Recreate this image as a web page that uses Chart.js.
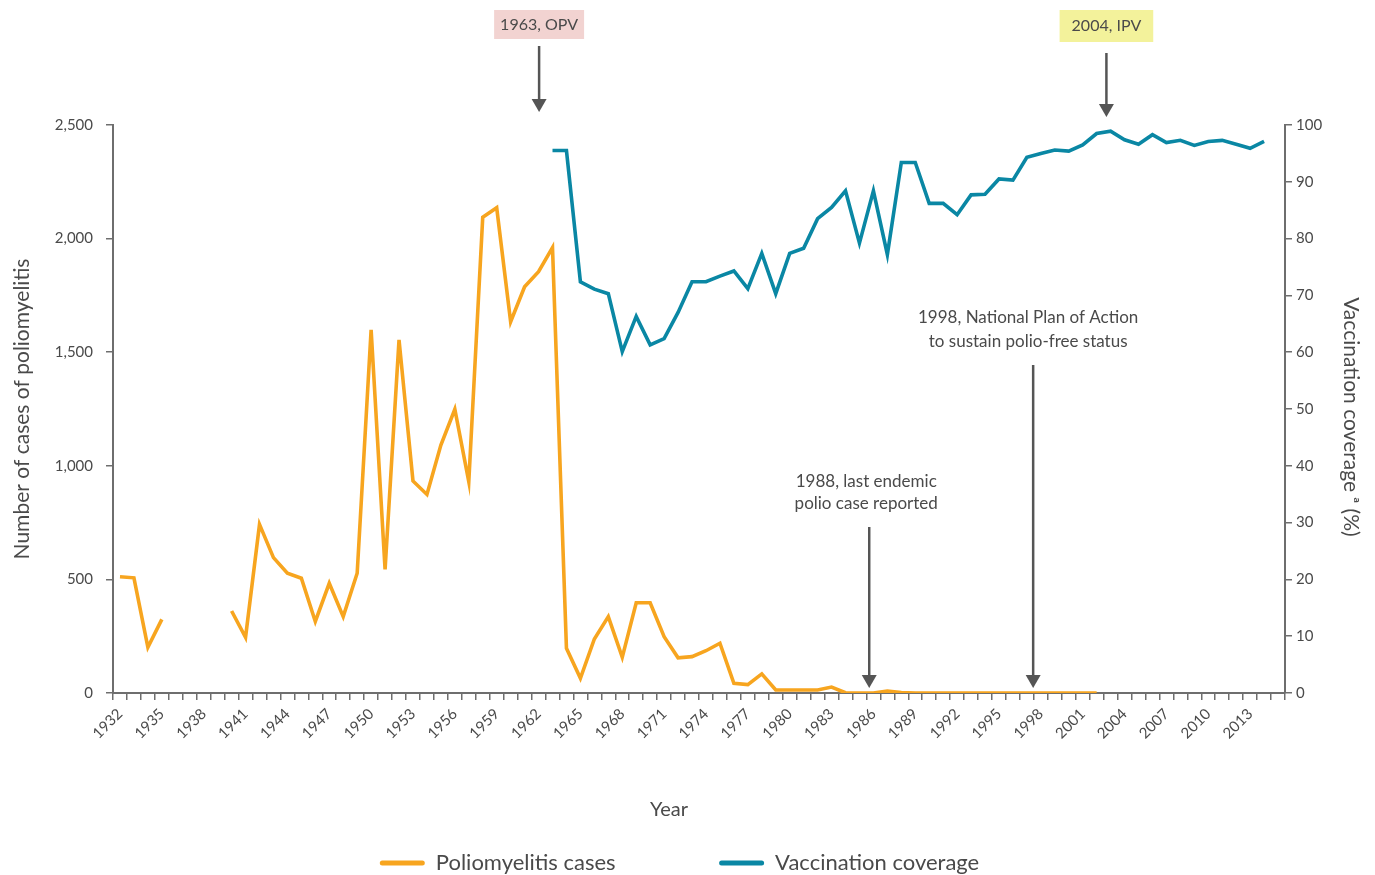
<!DOCTYPE html>
<html>
<head>
<meta charset="utf-8">
<script src="https://cdn.jsdelivr.net/npm/chart.js@4.4.1/dist/chart.umd.min.js"></script>
<style>
  html, body { margin: 0; padding: 0; background: #ffffff; }
  #wrap { width: 1375px; height: 875px; }
</style>
</head>
<body>
<div id="wrap"><canvas id="c" width="1375" height="875"></canvas></div>
<script>
// ---------------- DATA ----------------
const years = ['1932','1933','1934','1935','1936','1937','1938','1939','1940','1941',
  '1942','1943','1944','1945','1946','1947','1948','1949','1950','1951',
  '1952','1953','1954','1955','1956','1957','1958','1959','1960','1961',
  '1962','1963','1964','1965','1966','1967','1968','1969','1970','1971',
  '1972','1973','1974','1975','1976','1977','1978','1979','1980','1981',
  '1982','1983','1984','1985','1986','1987','1988','1989','1990','1991',
  '1992','1993','1994','1995','1996','1997','1998','1999','2000','2001',
  '2002','2003','2004','2005','2006','2007','2008','2009','2010','2011',
  '2012','2013','2014','2015'];

const yearTickLabels = ['1932','1935','1938','1941','1944','1947','1950','1953','1956','1959',
  '1962','1965','1968','1971','1974','1977','1980','1983','1986','1989','1992','1995','1998',
  '2001','2004','2007','2010','2013'];

// Poliomyelitis cases (left axis)
const poliomyelitisCases = [
  512, 507, 201, 324, null, null, null, null, 361, 245,   // 1932-1941
  742, 596, 527, 505, 315, 483, 336, 527, 1598, 544,       // 1942-1951
  1554, 933, 874, 1091, 1249, 930, 2094, 2136, 1634, 1788, // 1952-1961
  1854, 1960, 197, 65, 238, 336, 157, 397, 397, 248,       // 1962-1971
  155, 160, 186, 219, 43, 37, 84, 13, 13, 13,              // 1972-1981
  13, 26, 1, 0, 0, 9, 2, 0, 0, 0,                          // 1982-1991
  0, 0, 0, 0, 0, 0, 0, 0, 0, 0,                            // 1992-2001
  0, null, null, null, null, null, null, null, null, null, // 2002-2011
  null, null, null, null                                   // 2012-2015
];

// Vaccination coverage, % (right axis)
const vaccinationCoverage = [
  null, null, null, null, null, null, null, null, null, null, // 1932-1941
  null, null, null, null, null, null, null, null, null, null, // 1942-1951
  null, null, null, null, null, null, null, null, null, null, // 1952-1961
  null, 95.5, 95.5, 72.4, 71.1, 70.3, 60.1, 66.3, 61.3, 62.4, // 1962-1971
  67.0, 72.4, 72.4, 73.4, 74.3, 71.2, 77.4, 70.3, 77.4, 78.3, // 1972-1981
  83.5, 85.5, 88.4, 79.2, 88.4, 77.2, 93.4, 93.4, 86.2, 86.2, // 1982-1991
  84.2, 87.7, 87.8, 90.5, 90.3, 94.3, 95.0, 95.6, 95.4, 96.5, // 1992-2001
  98.5, 98.9, 97.4, 96.6, 98.3, 96.9, 97.3, 96.4, 97.1, 97.3, // 2002-2011
  96.6, 95.9, 97.1, null                                      // 2012-2015
];

const seriesNames = ['Poliomyelitis cases', 'Vaccination coverage'];

// Event markers: position on the year axis and their texts
const eventYears = [1962.04, 2002.7, 1985.7, 1997.45];
const eventTexts = [
  ['1963, OPV'],
  ['2004, IPV'],
  ['1988, last endemic', 'polio case reported'],
  ['1998, National Plan of Action', 'to sustain polio-free status']
];

// ---------------- STYLE ----------------
const FONT = 'Lato, "Open Sans", sans-serif';
const TEXT = '#4a4a4a';
const AXIS = '#6e6e6e';
const ORANGE = '#f7a51f';
const BLUE = '#0a87a4';

Chart.defaults.font.family = FONT;
Chart.defaults.color = TEXT;

const eventMarkers = {
  id: 'eventMarkers',
  afterDraw(chart, args, opts) {
    const ctx = chart.ctx;
    const x = chart.scales.x;
    const base = Number(years[0]);
    ctx.save();
    opts.items.forEach((st, i) => {
      const px = x.getPixelForValue(eventYears[i] - base);
      const lines = eventTexts[i];
      ctx.font = st.fontSize + 'px ' + FONT;
      ctx.textAlign = 'center';
      ctx.textBaseline = 'middle';
      if (st.type === 'box') {
        const w = ctx.measureText(lines[0]).width + st.padX * 2;
        ctx.fillStyle = st.bg;
        ctx.fillRect(px - w / 2, st.boxTop, w, st.boxH);
        ctx.fillStyle = TEXT;
        ctx.fillText(lines[0], px, st.boxTop + st.boxH / 2);
      } else {
        ctx.fillStyle = TEXT;
        lines.forEach((t, k) => ctx.fillText(t, px + st.dx, st.textY[k]));
      }
      // arrow
      const tip = st.arrowTip === 'bottom' ? chart.chartArea.bottom - 5 : st.arrowTip;
      ctx.strokeStyle = opts.arrowColor;
      ctx.lineWidth = 2.5;
      ctx.beginPath();
      ctx.moveTo(px, st.arrowTop);
      ctx.lineTo(px, tip - 11);
      ctx.stroke();
      ctx.fillStyle = opts.arrowColor;
      ctx.beginPath();
      ctx.moveTo(px - 7.5, tip - 13);
      ctx.lineTo(px + 7.5, tip - 13);
      ctx.lineTo(px, tip);
      ctx.closePath();
      ctx.fill();
    });
    ctx.restore();
  }
};

new Chart(document.getElementById('c'), {
  type: 'line',
  data: {
    labels: years,
    datasets: [
      {
        label: seriesNames[0],
        data: poliomyelitisCases,
        yAxisID: 'y',
        borderColor: ORANGE,
        backgroundColor: ORANGE,
        borderWidth: 3.6,
        pointRadius: 0,
        tension: 0,
        spanGaps: false
      },
      {
        label: seriesNames[1],
        data: vaccinationCoverage,
        yAxisID: 'y1',
        borderColor: BLUE,
        backgroundColor: BLUE,
        borderWidth: 3.6,
        pointRadius: 0,
        tension: 0,
        spanGaps: false
      }
    ]
  },
  options: {
    responsive: false,
    devicePixelRatio: 1,
    animation: false,
    layout: { padding: { top: 125, left: 0, right: 16, bottom: -9 } },
    plugins: {
      tooltip: { enabled: false },
      legend: {
        position: 'bottom',
        labels: {
          font: { size: 22 },
          color: TEXT,
          boxWidth: 45,
          boxHeight: 5,
          padding: 10,
          generateLabels(chart) {
            const items = Chart.defaults.plugins.legend.labels.generateLabels(chart);
            items.forEach((it, i) => {
              it.lineWidth = 0;
              it.borderRadius = 2.5;
              if (i === 0) it.text = it.text + '\u2003\u2003\u2003\u2003\u2003\u2002';
            });
            return items;
          }
        }
      },
      eventMarkers: {
        arrowColor: '#555555',
        items: [
          { type: 'box', fontSize: 16, bg: '#f2d3d1', boxTop: 10, boxH: 29, padX: 6, arrowTop: 46, arrowTip: 112 },
          { type: 'box', fontSize: 16, bg: '#f3f29b', boxTop: 10, boxH: 32, padX: 12, arrowTop: 53, arrowTip: 117 },
          { type: 'text', fontSize: 17, textY: [482, 504], dx: -3, arrowTop: 527, arrowTip: 'bottom' },
          { type: 'text', fontSize: 17, textY: [318, 342], dx: -5, arrowTop: 365, arrowTip: 'bottom' }
        ]
      }
    },
    scales: {
      x: {
        type: 'category',
        offset: true,
        afterFit(s) { s.height = 149; },
        grid: { offset: true, drawOnChartArea: false, drawTicks: true, tickLength: 7, color: AXIS, lineWidth: 1.5 },
        border: { display: true, color: AXIS, width: 2 },
        ticks: {
          autoSkip: false,
          maxRotation: 45,
          minRotation: 45,
          padding: 5,
          font: { size: 15 },
          color: TEXT,
          callback(value, index) {
            const lab = this.getLabelForValue(value);
            return yearTickLabels.includes(lab) ? lab : '';
          }
        },
        title: { display: true, text: 'Year\u2003\u2003\u2003\u2003', font: { size: 20 }, color: TEXT, padding: { top: 0, bottom: 20 } }
      },
      y: {
        position: 'left',
        min: 0,
        max: 2500,
        afterFit(s) { s.width = 113; },
        grid: { drawOnChartArea: false, drawTicks: true, tickLength: 7, color: AXIS, lineWidth: 1.5 },
        border: { display: true, color: AXIS, width: 2 },
        ticks: {
          stepSize: 500,
          padding: 13,
          font: { size: 15 },
          color: TEXT,
          callback(v) { return Number(v).toLocaleString('en-US'); }
        },
        title: { display: true, text: 'Number of cases of poliomyelitis', font: { size: 21 }, color: TEXT, padding: { top: 10, bottom: 0 } }
      },
      y1: {
        position: 'right',
        min: 0,
        max: 100,
        afterFit(s) { s.width = 74; },
        grid: { drawOnChartArea: false, drawTicks: true, tickLength: 7, color: AXIS, lineWidth: 1.5 },
        border: { display: true, color: AXIS, width: 2 },
        ticks: { stepSize: 10, padding: 4, font: { size: 15 }, color: TEXT },
        title: { display: true, text: '\u2003Vaccination coverage \u1d43 (%)', font: { size: 21 }, color: TEXT, padding: { top: -4, bottom: 0 } }
      }
    }
  },
  plugins: [eventMarkers]
});
</script>
</body>
</html>
